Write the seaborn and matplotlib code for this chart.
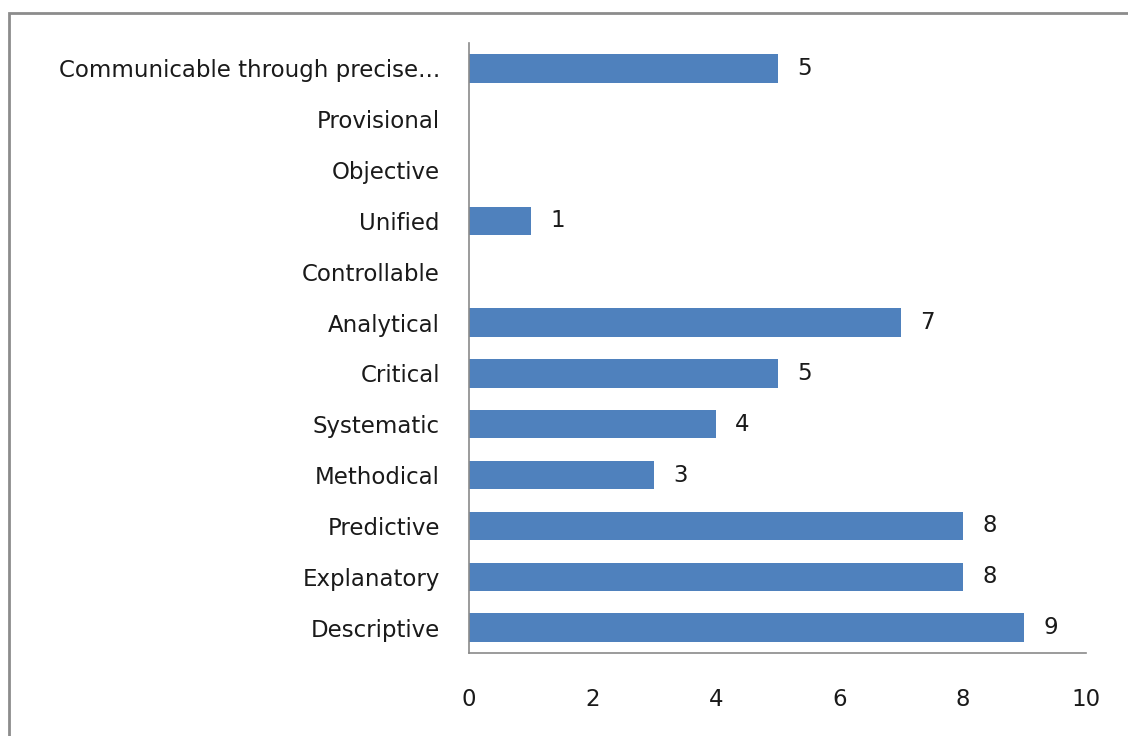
import numpy as np
import pandas as pd
import matplotlib
matplotlib.use("Agg")
import matplotlib.pyplot as plt
import matplotlib.patches as mpatches
import seaborn as sns

categories = ["Communicable through precise...", "Provisional", "Objective", "Unified",
              "Controllable", "Analytical", "Critical", "Systematic", "Methodical",
              "Predictive", "Explanatory", "Descriptive"]
values = [5, np.nan, np.nan, 1, np.nan, 7, 5, 4, 3, 8, 8, 9]
x_ticks = [0, 2, 4, 6, 8, 10]

sns.set_theme(style="white")
plt.rcParams['font.family'] = ['DejaVu Sans']

df = pd.DataFrame({"category": categories, "value": values})

fig = plt.figure(figsize=(11.28, 7.36), dpi=100)
ax = fig.add_axes([469/1128, 1 - 653/736, (1086 - 469)/1128, (653 - 43)/736])

sns.barplot(data=df, x="value", y="category", order=categories, orient="h",
            color="#4F81BD", saturation=1, width=0.56, ax=ax, linewidth=0, errorbar=None)

fs = 16.5
for cont in ax.containers:
    labels = []
    for bar in cont:
        w = bar.get_width()
        labels.append("" if (w is None or np.isnan(w)) else f"{w:g}")
    ax.bar_label(cont, labels=labels, padding=14, fontsize=fs, color="#1a1a1a")

ax.set_xlim(0, 10)
ax.set_xticks(x_ticks)
ax.set_xlabel("")
ax.set_ylabel("")
ax.tick_params(axis="x", length=0, pad=25, labelsize=fs, labelcolor="#1a1a1a")
ax.tick_params(axis="y", length=0, pad=21, labelsize=fs, labelcolor="#1a1a1a")
for s in ["top", "right"]:
    ax.spines[s].set_visible(False)
for s in ["left", "bottom"]:
    ax.spines[s].set_color("#8a8a8a")
    ax.spines[s].set_linewidth(1.2)
ax.grid(False)

rect = mpatches.Rectangle((8.5/1128, -0.1), 1.2, 1 - 12.5/736 + 0.1, transform=fig.transFigure,
                          fill=False, edgecolor="#8c8c8c", linewidth=2, clip_on=False)
fig.patches.append(rect)

fig.savefig("out.png", dpi=100)
